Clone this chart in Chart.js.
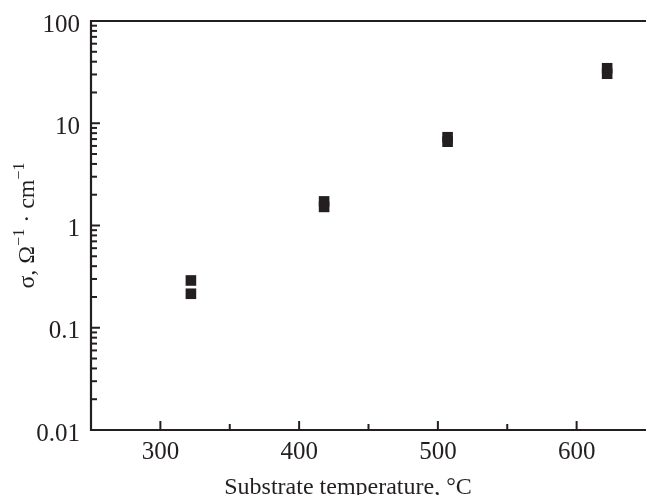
<!DOCTYPE HTML>
<html>
<head>
  <script src="https://cdn.jsdelivr.net/npm/chart.js"></script>
  <style>
    html, body { margin: 0; padding: 0; background: #fff; }
  </style>
  <script>
    // Substrate temperature (°C) and conductivity (Ohm^-1 cm^-1), two samples per temperature
    const temperatures = [322, 322, 418, 418, 507, 507, 622, 622];
    const conductivity = [0.29, 0.215, 1.72, 1.52, 7.3, 6.6, 34.5, 30.5];

    const xMajorTicks = [300, 400, 500, 600];
    const xMinorTicks = [350, 450, 550];
    const yMajorTicks = [0.01, 0.1, 1, 10, 100];
    const yTickLabels = ['0.01', '0.1', '1', '10', '100'];

    const ink = '#231f20';
    const serif = '"Liberation Serif", "Times New Roman", serif';

    // frame, inward ticks and axis titles
    const framePlugin = {
      id: 'frame',
      afterDraw(chart) {
        const ctx = chart.ctx;
        const a = chart.chartArea;
        const xs = chart.scales.x, ys = chart.scales.y;
        ctx.save();
        ctx.strokeStyle = ink;
        ctx.lineWidth = 2.2;
        ctx.lineCap = 'butt';
        ctx.beginPath();
        ctx.moveTo(a.right, a.top);
        ctx.lineTo(a.left, a.top);
        ctx.lineTo(a.left, a.bottom);
        ctx.lineTo(a.right, a.bottom);
        ctx.stroke();

        ctx.lineWidth = 2;
        function tick(x1, y1, x2, y2) {
          ctx.beginPath(); ctx.moveTo(x1, y1); ctx.lineTo(x2, y2); ctx.stroke();
        }
        xMajorTicks.forEach(v => { const p = xs.getPixelForValue(v); tick(p, a.bottom, p, a.bottom - 9); });
        xMinorTicks.forEach(v => { const p = xs.getPixelForValue(v); tick(p, a.bottom, p, a.bottom - 6); });
        yMajorTicks.forEach((d, i) => {
          const p = ys.getPixelForValue(d);
          tick(a.left, p, a.left + 9, p);
          if (i < yMajorTicks.length - 1) {
            for (let k = 2; k <= 9; k++) {
              const q = ys.getPixelForValue(k * d);
              tick(a.left, q, a.left + 6, q);
            }
          }
        });

        // x title
        ctx.fillStyle = ink;
        ctx.font = '24px ' + serif;
        ctx.textAlign = 'center';
        ctx.textBaseline = 'alphabetic';
        ctx.fillText('Substrate temperature, °C', 348, 494);

        // y title with superscripts
        const parts = [
          ['σ, Ω', 24, 0], ['−1', 16, -10], [' · cm', 24, 0], ['−1', 16, -10]
        ];
        let total = 0;
        parts.forEach(p => { ctx.font = p[1] + 'px ' + serif; total += ctx.measureText(p[0]).width; });
        ctx.translate(34, (a.top + a.bottom) / 2);
        ctx.rotate(-Math.PI / 2);
        ctx.textAlign = 'left';
        let x = -total / 2;
        parts.forEach(p => {
          ctx.font = p[1] + 'px ' + serif;
          ctx.fillText(p[0], x, p[2]);
          x += ctx.measureText(p[0]).width;
        });
        ctx.restore();
      }
    };

    window.onload = function() {
      const ctx = document.getElementById('myChart').getContext('2d');
      const points = temperatures.map((t, i) => ({ x: t, y: conductivity[i] }));

      new Chart(ctx, {
        type: 'scatter',
        data: {
          datasets: [{
            data: points,
            pointStyle: 'rect',
            pointRadius: 7.5,
            pointBorderWidth: 0,
            backgroundColor: ink,
            borderColor: ink
          }]
        },
        options: {
          responsive: false,
          animation: false,
          layout: { autoPadding: false, padding: { top: 21, right: 0, left: 0, bottom: 0 } },
          plugins: { legend: { display: false }, tooltip: { enabled: false } },
          scales: {
            x: {
              type: 'linear',
              min: 250,
              max: 650,
              grid: { display: false, drawTicks: false },
              border: { display: false },
              afterBuildTicks(scale) { scale.ticks = xMajorTicks.map(v => ({ value: v })); },
              afterFit(scale) {
                scale.height = 65;
                scale.paddingLeft = 0;
                scale.paddingRight = 0;
              },
              ticks: {
                padding: 7,
                maxRotation: 0,
                color: ink,
                font: { family: serif, size: 25 },
                callback: v => String(v)
              }
            },
            y: {
              type: 'logarithmic',
              min: 0.01,
              max: 100,
              grid: { display: false, drawTicks: false },
              border: { display: false },
              afterBuildTicks(scale) { scale.ticks = yMajorTicks.map(v => ({ value: v })); },
              afterFit(scale) {
                scale.width = 91;
                scale.paddingTop = 0;
                scale.paddingBottom = 0;
              },
              ticks: {
                padding: 11,
                labelOffset: 4,
                color: ink,
                font: { family: serif, size: 25 },
                callback: (v, i) => yTickLabels[yMajorTicks.indexOf(v)]
              }
            }
          }
        },
        plugins: [framePlugin]
      });
    };
  </script>
</head>
<body>
  <canvas id="myChart" width="646" height="495"></canvas>
</body>
</html>
